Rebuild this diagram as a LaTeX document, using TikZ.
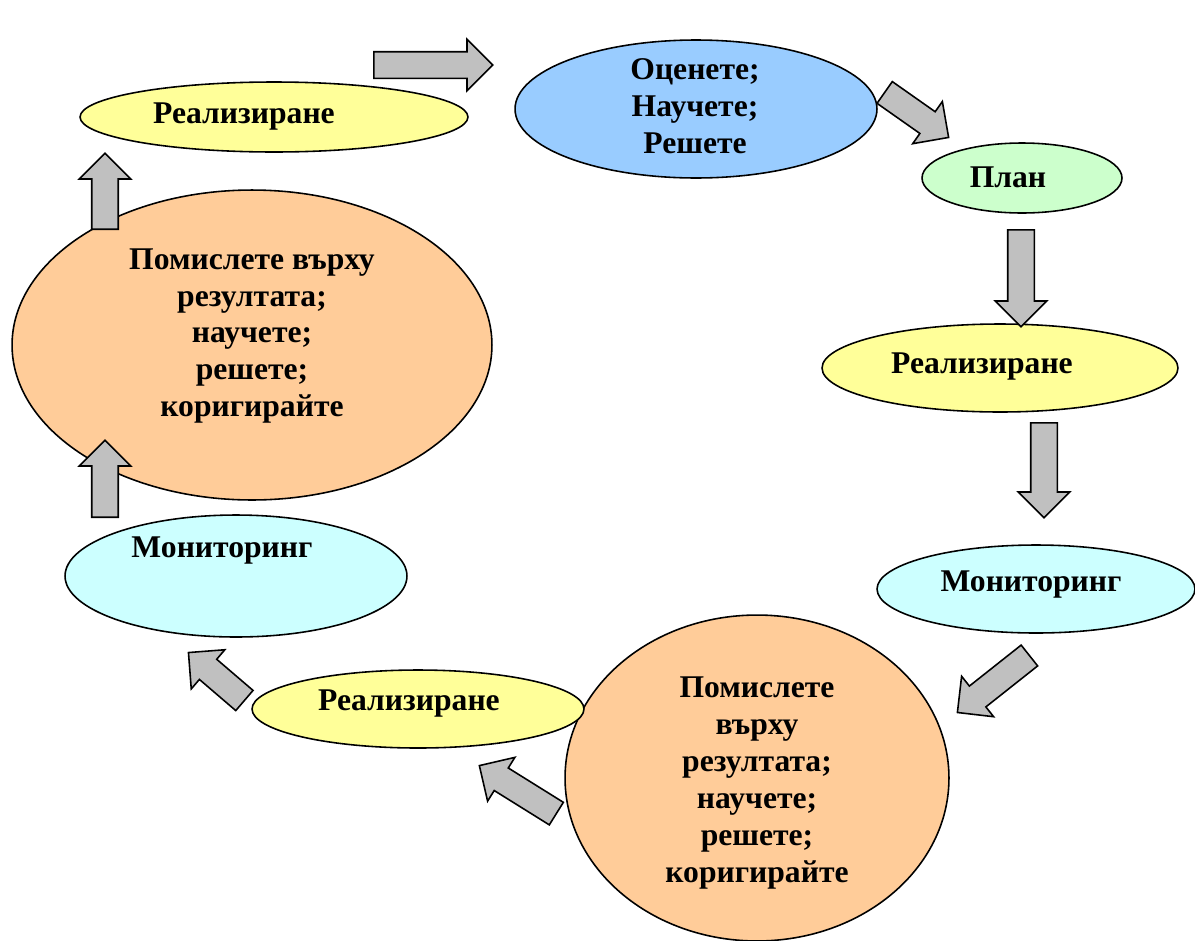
\documentclass[tikz,border=0pt]{standalone}
\usepackage{fontspec}
\setmainfont{Liberation Serif}
\usetikzlibrary{shapes.geometric,shapes.arrows,calc}

\definecolor{realfill}{HTML}{FFFF99}
\definecolor{assessfill}{HTML}{99CCFF}
\definecolor{planfill}{HTML}{CCFFCC}
\definecolor{monfill}{HTML}{CCFFFF}
\definecolor{reflfill}{HTML}{FFCC99}
\definecolor{arrowgray}{HTML}{C0C0C0}

\begin{document}
\begin{tikzpicture}[x=0.02cm,y=-0.02cm,
    bubble/.style={ellipse,draw,line width=0.9pt,inner sep=0pt},
    stage/.style={font=\fontsize{18}{21}\selectfont\bfseries,align=center},
    blockarr/.style={single arrow,draw,fill=arrowgray,line width=0.9pt,
      inner sep=0pt,inner ysep=0.25cm,single arrow head extend=0.25cm,
      single arrow tip angle=90,sloped,allow upside down}]
  \useasboundingbox (0,0) rectangle (1195,940);

  % cycle stages
  \node[bubble,fill=realfill,minimum width=7.76cm,minimum height=1.4cm] (real1) at (274,117) {};
  \node[bubble,fill=assessfill,minimum width=7.24cm,minimum height=2.76cm] (assess) at (696,109) {};
  \node[bubble,fill=planfill,minimum width=4cm,minimum height=1.4cm] (plan) at (1022,178) {};
  \node[bubble,fill=realfill,minimum width=7.12cm,minimum height=1.76cm] (real2) at (1000,368) {};
  \node[bubble,fill=monfill,minimum width=6.36cm,minimum height=1.76cm] (mon1) at (1036,589) {};
  \node[bubble,fill=reflfill,minimum width=7.68cm,minimum height=6.52cm] (refl1) at (757,778) {};
  \node[bubble,fill=realfill,minimum width=6.64cm,minimum height=1.56cm] (real3) at (418,709) {};
  \node[bubble,fill=monfill,minimum width=6.84cm,minimum height=2.44cm] (mon2) at (236,576) {};
  \node[bubble,fill=reflfill,minimum width=9.6cm,minimum height=6.2cm] (refl2) at (252,345) {};

  \node[stage] (real1-t) at (244,117) {Реализиране};
  \node[stage] (assess-t) at (695,106) {Оценете;\\Научете;\\Решете};
  \node[stage] (plan-t) at (1008,177) {План};
  \node[stage] (real2-t) at (982,367) {Реализиране};
  \node[stage] (mon1-t) at (1031,584) {Мониторинг};
  \node[stage] (refl1-t) at (757,783) {Помислете\\върху\\резултата;\\научете;\\решете;\\коригирайте};
  \node[stage] (real3-t) at (409,703) {Реализиране};
  \node[stage] (mon2-t) at (222,551) {Мониторинг};
  \node[stage] (refl2-t) at (252,336) {Помислете върху\\резултата;\\научете;\\решете;\\коригирайте};

  % block arrows between stages
  \foreach \name/\from/\to in {a1/{373,65}/{492,65},a2/{884,92}/{948,137},
      a3/{1021,229}/{1021,326},a4/{1044,422}/{1044,517},a5/{1030,655}/{958,712},
      a6/{557,814}/{480,766},a7/{245,701}/{189,653},a8/{105,518}/{105,441},
      a9/{105,230}/{105,154}} {
    \coordinate (\name-s) at (\from);
    \coordinate (\name-e) at (\to);
    \path let \p1=($(\name-e)-(\name-s)$), \n1={veclen(\x1,\y1)} in
      (\name-s) -- (\name-e) node[blockarr,pos=0,anchor=tail,minimum height=\n1] (\name) {};
  }
\end{tikzpicture}
\end{document}
